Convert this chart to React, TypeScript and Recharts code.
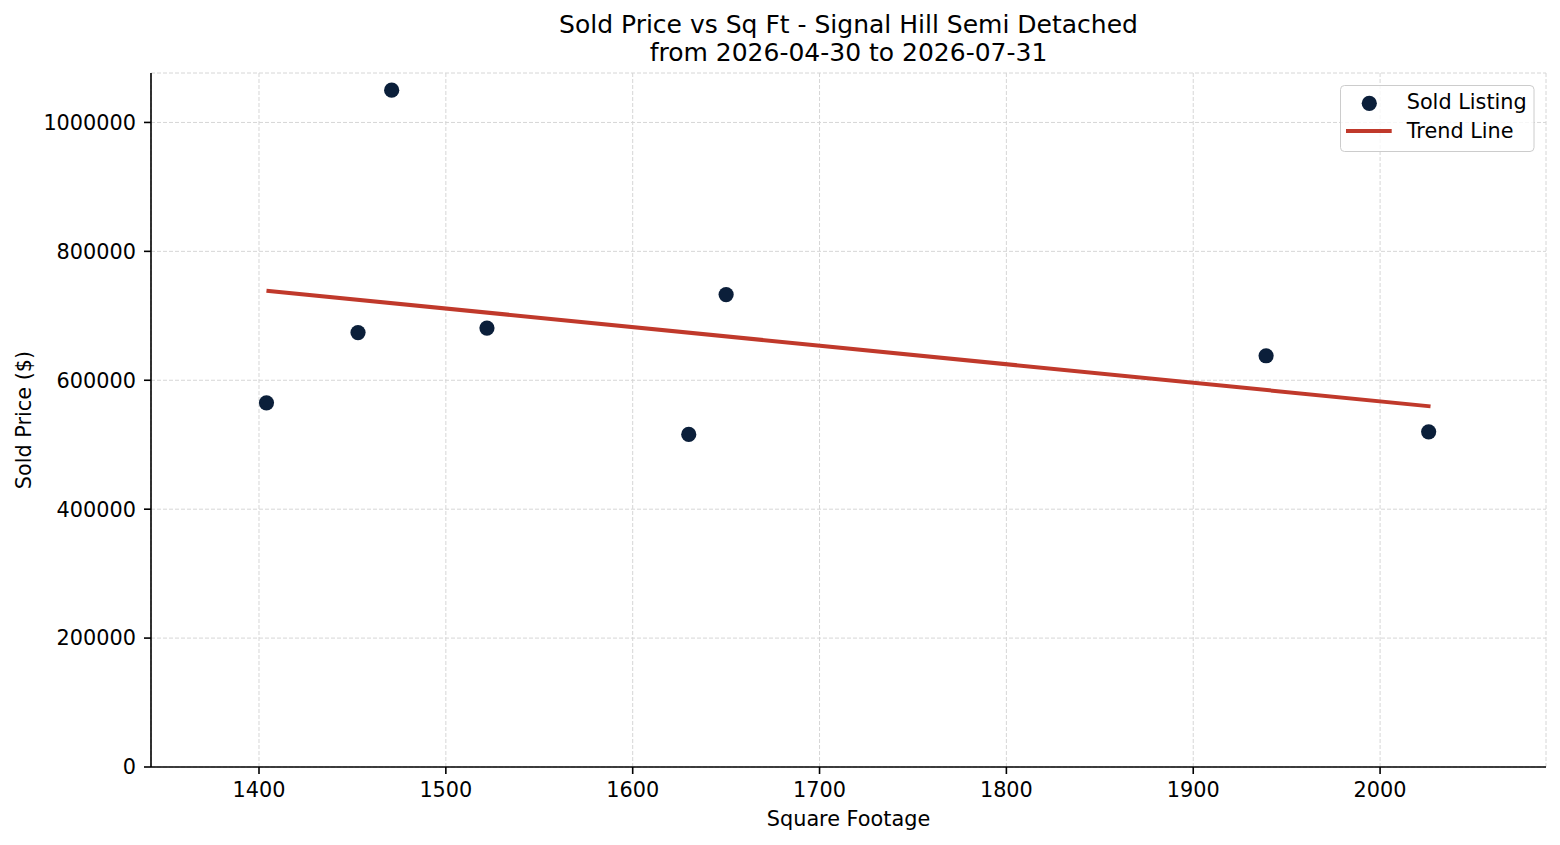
import { ScatterChart, Scatter, XAxis, YAxis, CartesianGrid, Legend, Label } from "recharts";

// sold listings
const sqft = [1404, 1453, 1471, 1522, 1630, 1650, 1939, 2026];
const soldPrice = [565000, 674000, 1050000, 681000, 516000, 733000, 638000, 520000];

// trend line end points
const trendSqft = [1404, 2027];
const trendPrice = [739000, 559500];

const xTicks = [1400, 1500, 1600, 1700, 1800, 1900, 2000];
const yTicks = [0, 200000, 400000, 600000, 800000, 1000000];

const seriesNames = ["Sold Listing", "Trend Line"];
const titleLines = ["Sold Price vs Sq Ft - Signal Hill Semi Detached", "from 2026-04-30 to 2026-07-31"];

const soldData = sqft.map((x, i) => ({ x, y: soldPrice[i] }));
const trendData = trendSqft.map((x, i) => ({ x, y: trendPrice[i] }));

const FONT = "'DejaVu Sans', Verdana, sans-serif";
const NAVY = "#0b1f3a";
const RED = "#c0392b";

const tickStyle = { fill: "#000", fontSize: 20.8, fontFamily: FONT };

const renderDot = (props: any) => <circle cx={props.cx} cy={props.cy} r={7.6} fill={NAVY} />;

const renderXLabel = (props: any) => {
  const vb = props.viewBox;
  return (
    <text x={vb.x + vb.width / 2} y={826} textAnchor="middle" fontSize={20.8} fontFamily={FONT} fill="#000">
      Square Footage
    </text>
  );
};

const renderYLabel = (props: any) => {
  const vb = props.viewBox;
  const cx = 24;
  const cy = vb.y + vb.height / 2;
  return (
    <text
      x={cx}
      y={cy}
      transform={`rotate(-90 ${cx} ${cy})`}
      textAnchor="middle"
      dominantBaseline="central"
      fontSize={20.8}
      fontFamily={FONT}
      fill="#000"
    >
      Sold Price ($)
    </text>
  );
};

const renderLegend = () => (
  <svg width={195} height={67} style={{ display: "block" }}>
    <rect x={0.5} y={0.5} width={193.5} height={66} rx={4} fill="#fff" fillOpacity={0.8} stroke="#cccccc" />
    <circle cx={29.3} cy={18.3} r={7.6} fill={NAVY} />
    <text x={66.7} y={23.6} fontSize={20.8} fontFamily={FONT} fill="#000">
      {seriesNames[0]}
    </text>
    <line x1={6} x2={51.7} y1={46} y2={46} stroke={RED} strokeWidth={4} />
    <text x={66.7} y={52.6} fontSize={20.8} fontFamily={FONT} fill="#000">
      {seriesNames[1]}
    </text>
  </svg>
);

export default function App() {
  return (
    <div style={{ position: "absolute", top: 0, left: 0, width: 1560, height: 845, background: "#fff", fontFamily: FONT }}>
      <div
        style={{
          position: "absolute",
          top: 10.8,
          left: 151,
          width: 1395,
          textAlign: "center",
          fontSize: 25,
          lineHeight: "27.7px",
          color: "#000",
          zIndex: 2,
        }}
      >
        {titleLines.map((t) => (
          <div key={t}>{t}</div>
        ))}
      </div>
      <ScatterChart width={1560} height={845} margin={{ top: 73, right: 14, bottom: 0, left: 0 }}>
        <CartesianGrid stroke="#d6d6d6" strokeDasharray="4 2" strokeWidth={1} />
        <XAxis
          type="number"
          dataKey="x"
          domain={[1342.2, 2088.8]}
          ticks={xTicks}
          allowDataOverflow
          height={78}
          tick={tickStyle}
          tickSize={7}
          tickMargin={8}
          axisLine={{ stroke: "#000", strokeWidth: 1.6 }}
          tickLine={{ stroke: "#000", strokeWidth: 1.6 }}
        >
          <Label content={renderXLabel} />
        </XAxis>
        <YAxis
          type="number"
          dataKey="y"
          domain={[0, 1076700]}
          ticks={yTicks}
          allowDataOverflow
          width={151}
          tick={tickStyle}
          tickSize={7}
          tickMargin={8}
          axisLine={{ stroke: "#000", strokeWidth: 1.6 }}
          tickLine={{ stroke: "#000", strokeWidth: 1.6 }}
        >
          <Label content={renderYLabel} />
        </YAxis>
        <Legend
          layout="vertical"
          align="center"
          verticalAlign="middle"
          wrapperStyle={{ position: "absolute", top: 85, left: 1340, width: 195, height: 67 }}
          content={renderLegend}
        />
        <Scatter name={seriesNames[0]} data={soldData} fill={NAVY} shape={renderDot} isAnimationActive={false} />
        <Scatter
          name={seriesNames[1]}
          data={trendData}
          fill={RED}
          line={{ stroke: RED, strokeWidth: 4 }}
          lineType="joint"
          shape={() => <g />}
          isAnimationActive={false}
        />
      </ScatterChart>
    </div>
  );
}
